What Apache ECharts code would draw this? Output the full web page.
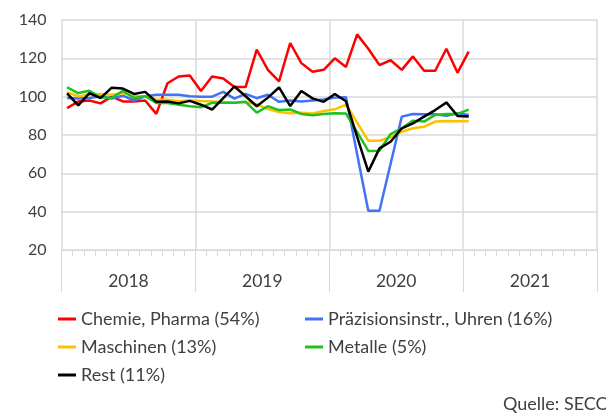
<!DOCTYPE html>
<html>
<head>
<meta charset="utf-8">
<script src="https://cdn.jsdelivr.net/npm/echarts@6/dist/echarts.min.js"></script>
<style>
  html, body { margin: 0; padding: 0; background: #fff; }
  #chart { width: 606px; height: 417px; }
</style>
</head>
<body>
<div id="chart"></div>
<script>
// monthly index values, Jan 2018 .. Jan 2021
var years = ['2018', '2019', '2020', '2021'];
var months = [];
for (var y = 0; y < years.length; y++) {
    for (var m = 1; m <= 12; m++) {
        months.push(years[y] + '-' + (m < 10 ? '0' + m : m));
    }
}
var yTicks = [20, 40, 60, 80, 100, 120, 140];

var chemie = [94, 97.5, 98, 96.5, 100, 97.5, 97.5, 98, 91, 107, 110.5, 111,
    103, 110.5, 109.5, 105, 105, 124.5, 114, 108, 128, 117.5, 113, 114,
    120, 115.5, 132.5, 125, 116.5, 119, 114, 121, 113.5, 113.5, 125, 112.5, 123.5];
var praezision = [99.3, 99, 99.3, 100.2, 99, 100.5, 98, 100.2, 101, 101, 101, 100.2,
    100, 100, 102.5, 99, 101.5, 99.2, 101, 97.3, 98, 97.5, 98, 98.5,
    99.5, 99.7, 70, 40.5, 40.5, 65, 89.6, 91, 90.8, 90.8, 90, 91.3, 90.4];
var maschinen = [102.4, 100.2, 101, 101.4, 101, 101.9, 100.2, 100.2, 98.4, 98.4, 97.6, 98,
    97.8, 97.5, 97.2, 96.8, 97.2, 96, 93.5, 92, 91.3, 91.6, 91.2, 92.5,
    93.4, 95.9, 86.5, 77, 77, 78.8, 81.7, 83.5, 84.3, 87, 87.3, 87.2, 87.2];
var metalle = [104.9, 101.9, 103.1, 99.7, 99.3, 103, 99.3, 100.2, 96.7, 96.7, 95.8, 95,
    94.5, 96.8, 96.8, 96.8, 97.3, 91.7, 95, 93, 93.3, 91, 90.3, 91,
    91.3, 91.2, 81.5, 71.7, 71.8, 80.5, 83.5, 87.5, 87, 90.5, 91, 91, 93.2];
var rest = [101.7, 95.5, 101.8, 99.2, 104.7, 104.2, 101.4, 102.5, 97.3, 97.5, 96.5, 97.8,
    95.8, 93.3, 99.2, 105.3, 100.2, 95, 99.5, 104.8, 95.1, 103, 99.1, 97.3,
    101.4, 97.6, 79, 60.9, 73, 76.5, 83.5, 86.1, 89.6, 93, 97, 89.9, 89.6];

var names = ['Chemie, Pharma (54%)', 'Präzisionsinstr., Uhren (16%)', 'Maschinen (13%)', 'Metalle (5%)', 'Rest (11%)'];
var colors = ['#ff0000', '#4472f4', '#ffc000', '#1ec21e', '#000000'];
var values = [chemie, praezision, maschinen, metalle, rest];

var gridColor = '#d9d9d9';
var textColor = '#404040';
var fontFamily = 'Lato, "Open Sans", sans-serif';

var initChart = function () {
    var chart = echarts.init(document.getElementById('chart'));
    var series = [];
    for (var i = 0; i < names.length; i++) {
        series.push({
            name: names[i],
            type: 'line',
            xAxisIndex: 0,
            data: values[i],
            symbol: 'none',
            smooth: false,
            color: colors[i],
            lineStyle: { width: 2.5, color: colors[i] },
            z: 2 + i
        });
    }
    var legendText = { fontSize: 18, color: textColor, fontFamily: fontFamily, lineHeight: 18 };
    var option = {
        animation: false,
        backgroundColor: '#fff',
        textStyle: { fontFamily: fontFamily },
        grid: { left: 61.5, right: 9, top: 20, bottom: 167, containLabel: false },
        legend: [
            {
                data: [names[0], names[2], names[4]],
                orient: 'vertical', left: 53, top: 305,
                icon: 'rect', itemWidth: 18, itemHeight: 3, itemGap: 10,
                selectedMode: false, textStyle: legendText
            },
            {
                data: [names[1], names[3]],
                orient: 'vertical', left: 300, top: 305,
                icon: 'rect', itemWidth: 18, itemHeight: 3, itemGap: 10,
                selectedMode: false, textStyle: legendText
            }
        ],
        xAxis: [
            {
                type: 'category',
                data: months,
                boundaryGap: true,
                axisLine: { show: true, lineStyle: { color: gridColor, width: 1 } },
                axisTick: { show: true, interval: 0, length: 6, lineStyle: { color: gridColor } },
                axisLabel: { show: false },
                splitLine: { show: false }
            },
            {
                type: 'category',
                data: years,
                position: 'bottom',
                boundaryGap: true,
                axisLine: { show: false },
                axisTick: { show: true, length: 42, lineStyle: { color: gridColor } },
                axisLabel: { show: true, margin: 22, fontSize: 17.5, color: textColor, fontFamily: fontFamily },
                splitLine: { show: true, lineStyle: { color: gridColor, width: 1.5 } }
            }
        ],
        yAxis: {
            type: 'value',
            min: yTicks[0],
            max: yTicks[yTicks.length - 1],
            interval: 20,
            axisLine: { show: false },
            axisTick: { show: false },
            axisLabel: { margin: 15, fontSize: 16, color: textColor, fontFamily: fontFamily },
            splitLine: { show: true, lineStyle: { color: gridColor, width: 1.5 } }
        },
        graphic: [
            {
                type: 'text',
                left: 503, top: 395,
                style: { text: 'Quelle: SECO', fontSize: 18, fill: textColor, fontFamily: fontFamily }
            }
        ],
        series: series
    };
    chart.setOption(option);
};

initChart();
</script>
</body>
</html>
